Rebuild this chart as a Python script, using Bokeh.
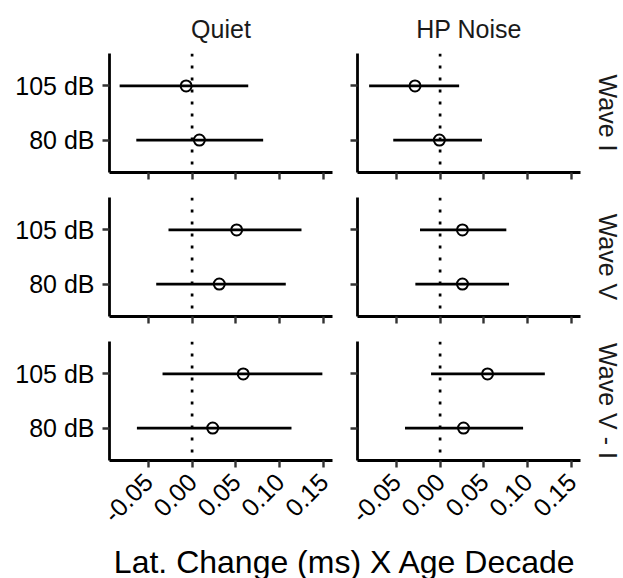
from bokeh.plotting import figure
from bokeh.layouts import gridplot, column
from bokeh.models import Range1d, FixedTicker, Span, Title, Label, ColumnDataSource, NumeralTickFormatter, CustomJSTickFormatter
from bokeh.embed import file_html
from bokeh.resources import INLINE

# ---- data ----
waves = ["Wave I", "Wave V", "Wave V - I"]
conditions = ["Quiet", "HP Noise"]
levels = ["80 dB", "105 dB"]  # bottom to top
x_ticks = [-0.05, 0.0, 0.05, 0.10, 0.15]
x_title = "Lat. Change (ms) X Age Decade"

wave = ["Wave I"] * 4 + ["Wave V"] * 4 + ["Wave V - I"] * 4
condition = ["Quiet", "Quiet", "HP Noise", "HP Noise"] * 3
level = ["105 dB", "80 dB"] * 6
estimate = [-0.0068, 0.0083, -0.0286, -0.0008,
            0.0508, 0.0310, 0.0255, 0.0255,
            0.0583, 0.0235, 0.0541, 0.0267]
lower = [-0.0826, -0.0636, -0.0809, -0.0534,
         -0.0269, -0.0409, -0.0229, -0.0282,
         -0.0337, -0.0629, -0.0103, -0.0400]
upper = [0.0640, 0.0810, 0.0217, 0.0477,
         0.1247, 0.1068, 0.0755, 0.0786,
         0.1485, 0.1133, 0.1194, 0.0946]

FONT = "Liberation Sans"
FS = "25px"
xmin, xmax = min(lower), max(upper)
pad = 0.05 * (xmax - xmin)

FRAME_W, FRAME_H = 223, 119
col_borders = [(109, 12), (13, 43)]          # (left, right)
row_borders = [(53, 12), (13, 12), (13, 60)]  # (top, bottom)

grid = []
for r, wv in enumerate(waves):
    row = []
    for c, cond in enumerate(conditions):
        idx = [i for i in range(len(wave)) if wave[i] == wv and condition[i] == cond]
        src = ColumnDataSource(dict(
            y=[levels.index(level[i]) + 1 for i in idx],
            est=[estimate[i] for i in idx],
            lo=[lower[i] for i in idx],
            hi=[upper[i] for i in idx],
        ))
        p = figure(frame_width=FRAME_W, frame_height=FRAME_H,
                   min_border_left=col_borders[c][0], min_border_right=col_borders[c][1],
                   min_border_top=row_borders[r][0], min_border_bottom=row_borders[r][1],
                   x_range=Range1d(xmin - pad, xmax + pad), y_range=Range1d(0.4, 2.6),
                   output_backend="svg", toolbar_location=None, tools="")
        p.outline_line_color = None
        p.grid.visible = False
        p.add_layout(Span(location=0, dimension="height", line_color="black",
                          line_width=2.7, line_dash="3 9"))
        p.segment(x0="lo", y0="y", x1="hi", y1="y", source=src,
                  line_color="black", line_width=2.7)
        p.scatter(x="est", y="y", source=src, marker="circle", size=11,
                  fill_color=None, line_color="black", line_width=2)

        for ax in (p.xaxis[0], p.yaxis[0]):
            ax.axis_line_color = "black"
            ax.axis_line_width = 2.8
            ax.major_tick_line_color = "#333333"
            ax.major_tick_line_width = 2.4
            ax.major_tick_out = 7
            ax.major_tick_in = 0
            ax.minor_tick_line_color = None
            ax.major_label_text_font = FONT
            ax.major_label_text_font_size = FS
            ax.major_label_text_color = "black"

        p.xaxis.ticker = FixedTicker(ticks=x_ticks)
        if r == len(waves) - 1:
            p.xaxis.formatter = NumeralTickFormatter(format="0.00")
            p.xaxis.major_label_orientation = 0.785398
            p.xaxis.major_label_standoff = 10
        else:
            p.xaxis.formatter = CustomJSTickFormatter(code="return ''")

        p.yaxis.ticker = FixedTicker(ticks=[1, 2])
        if c == 0:
            p.yaxis.major_label_overrides = {1: levels[0], 2: levels[1]}
            p.yaxis.major_label_standoff = 8
        else:
            p.yaxis.formatter = CustomJSTickFormatter(code="return ''")

        if r == 0:
            p.title.text = cond
            p.title.align = "center"
            p.title.text_font = FONT
            p.title.text_font_size = FS
            p.title.text_font_style = "normal"
            p.title.text_color = "#1a1a1a"
            p.title.standoff = 22
        if c == len(conditions) - 1:
            p.add_layout(Title(text=wv, align="center", text_font=FONT,
                               text_font_size=FS, text_font_style="normal",
                               text_color="#1a1a1a", standoff=26), "right")
        row.append(p)
    grid.append(row)

gp = gridplot(grid, toolbar_location=None)

lab = figure(width=623, height=50, x_range=Range1d(0, 623), y_range=Range1d(0, 50),
             min_border=0, x_axis_location=None, y_axis_location=None,
             output_backend="svg", toolbar_location=None, tools="")
lab.outline_line_color = None
lab.grid.visible = False
lab.add_layout(Label(x=344.6, y=22, text=x_title, text_align="center",
                     text_baseline="alphabetic", text_font=FONT,
                     text_font_size="32px", text_color="black"))

layout = column(gp, lab)
open("out.html", "w").write(file_html(layout, INLINE))
